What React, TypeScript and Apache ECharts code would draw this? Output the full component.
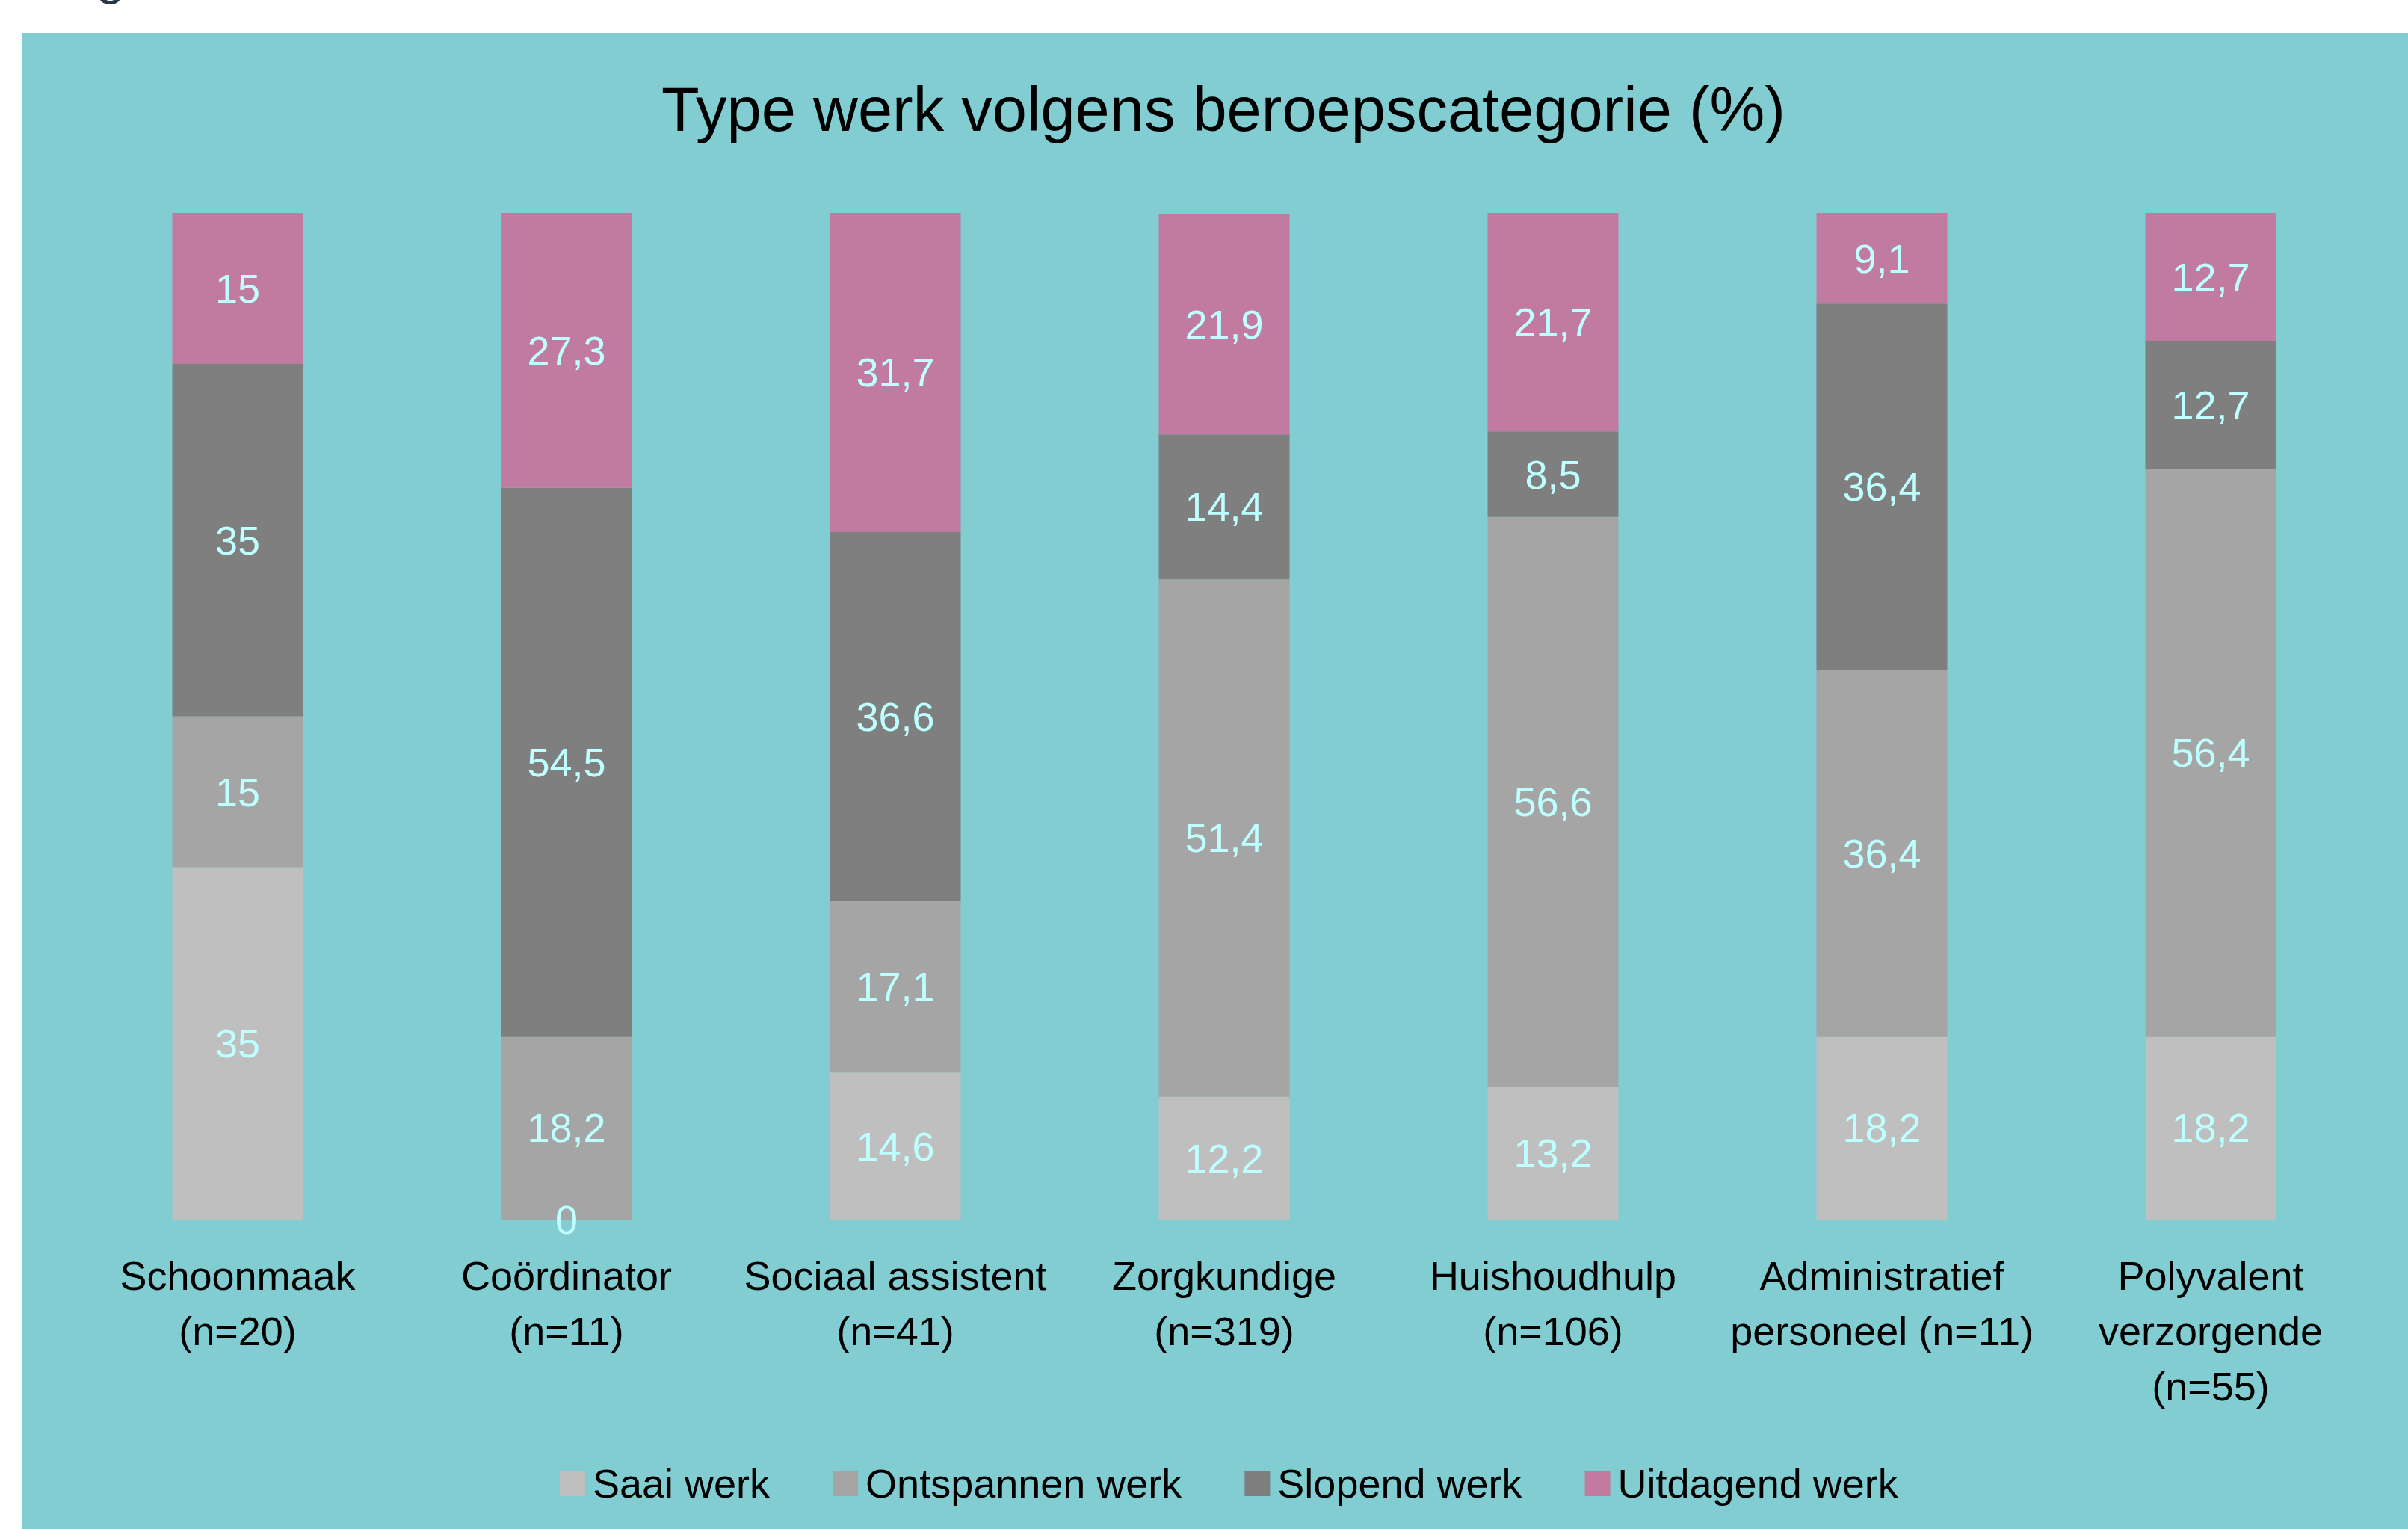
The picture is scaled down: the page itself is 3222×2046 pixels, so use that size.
import React, { useEffect, useRef } from "react";
import * as echarts from "echarts";

const categories = [
  "Schoonmaak\n(n=20)",
  "Coördinator\n(n=11)",
  "Sociaal assistent\n(n=41)",
  "Zorgkundige\n(n=319)",
  "Huishoudhulp\n(n=106)",
  "Administratief\npersoneel (n=11)",
  "Polyvalent\nverzorgende\n(n=55)",
];
const seriesNames = ["Saai werk", "Ontspannen werk", "Slopend werk", "Uitdagend werk"];
const saai = [35, 0, 14.6, 12.2, 13.2, 18.2, 18.2];
const ontspannen = [15, 18.2, 17.1, 51.4, 56.6, 36.4, 56.4];
const slopend = [35, 54.5, 36.6, 14.4, 8.5, 36.4, 12.7];
const uitdagend = [15, 27.3, 31.7, 21.9, 21.7, 9.1, 12.7];
const colors = ["#BFBFBF", "#A5A5A5", "#7F7F7F", "#C27BA0"];

const FONT = "'Liberation Sans', Arial, sans-serif";

export default function App() {
  const ref = useRef<HTMLDivElement>(null);
  useEffect(() => {
    document.body.style.margin = "0";
    const chart = echarts.init(ref.current!, undefined, { renderer: "svg" });
    const values = [saai, ontspannen, slopend, uitdagend];
    chart.setOption({
      animation: false,
      backgroundColor: "#FFFFFF",
      textStyle: { fontFamily: FONT },
      graphic: [
        {
          type: "rect",
          z: -10,
          silent: true,
          shape: { x: 29, y: 44, width: 3193, height: 2002 },
          style: { fill: "#81CDD2" },
        },
        {
          type: "text",
          x: 70,
          y: 2,
          silent: true,
          style: {
            text: "Figuur",
            fontFamily: FONT,
            fontSize: 70,
            fill: "#253746",
            verticalAlign: "bottom",
          },
        },
      ],
      title: {
        text: "Type werk volgens beroepscategorie (%)",
        left: 885,
        top: 105,
        padding: 0,
        textStyle: { fontFamily: FONT, fontSize: 83, fontWeight: "normal", color: "#000000" },
      },
      legend: {
        left: 744,
        top: 1953,
        itemWidth: 34,
        itemHeight: 34,
        itemGap: 84,
        icon: "rect",
        data: seriesNames,
        textStyle: { fontFamily: FONT, fontSize: 54, color: "#000000", padding: [0, 0, 0, 5] },
      },
      grid: { left: 98, right: 44, top: 285, bottom: 414, containLabel: false },
      xAxis: {
        type: "category",
        data: categories,
        axisLine: { show: false },
        axisTick: { show: false },
        axisLabel: {
          interval: 0,
          margin: 38,
          fontFamily: FONT,
          fontSize: 54,
          lineHeight: 74,
          color: "#000000",
        },
      },
      yAxis: {
        type: "value",
        min: 0,
        max: 100,
        show: false,
        splitLine: { show: false },
      },
      series: seriesNames.map((name, i) => ({
        name,
        type: "bar",
        stack: "total",
        barWidth: 175,
        data: values[i],
        itemStyle: { color: colors[i] },
        label: {
          show: true,
          position: "inside",
          fontFamily: FONT,
          fontSize: 54,
          color: "#BEFFFF",
          formatter: (p: any) => String(p.value).replace(".", ","),
        },
      })),
    });
    return () => chart.dispose();
  }, []);
  return (
    <div
      ref={ref}
      style={{ position: "fixed", left: 0, top: 0, width: 3222, height: 2046 }}
    />
  );
}
